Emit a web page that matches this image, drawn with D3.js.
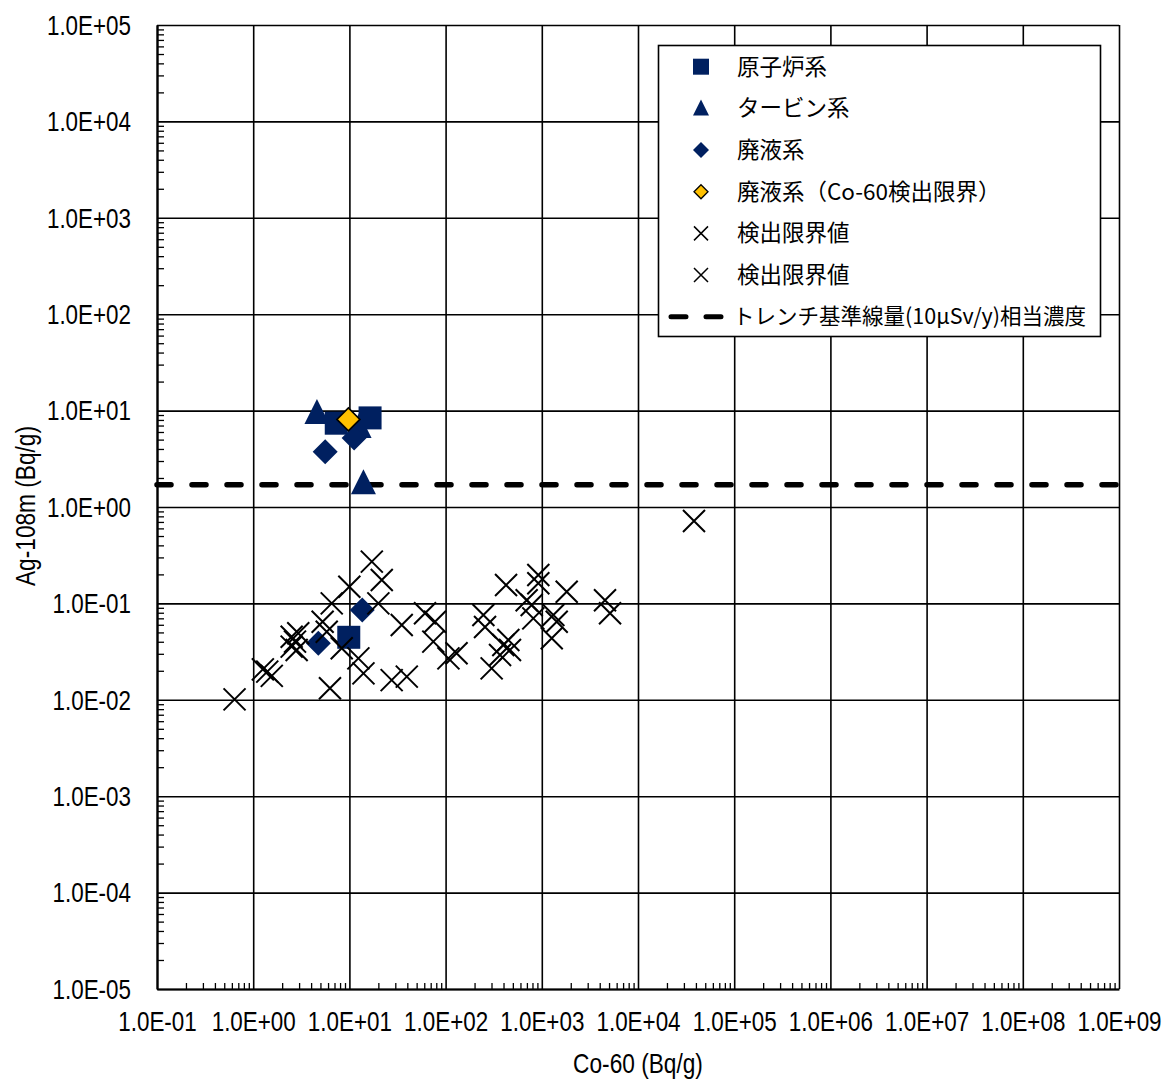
<!DOCTYPE html>
<html>
<head>
<meta charset="utf-8">
<script src="https://cdn.jsdelivr.net/npm/d3@7"></script>
<style>
  body { margin: 0; background: #fff; }
  svg { display: block; }
</style>
</head>
<body>
<div id="chart"></div>
<script>
// data (Bq/g)
var reactorX = [7.3, 16.4, 9.85];
var reactorY = [7.4, 8.4, 0.0445];
var turbineX = [4.6, 12.6, 14.0];
var turbineY = [9.5, 6.8, 1.77];
var wasteX = [5.6, 11.2, 13.6, 4.75];
var wasteY = [3.75, 5.2, 0.0855, 0.0385];
var wasteLimX = [9.76];
var wasteLimY = [8.1];
// detection limit values (two series in the legend, same marker)
var limitX = [0.64, 1.26, 1.40, 1.56, 2.51, 2.72, 2.51, 2.94, 2.83, 5.27, 5.81, 6.55,
  9.98, 17.1, 21.7, 20.0, 8.32, 12.4, 14.0, 6.28, 35.0, 27.5, 39.5, 61.1];
var limitY = [0.0101, 0.0207, 0.0196, 0.0177, 0.0451, 0.0401, 0.0356, 0.0490, 0.0329, 0.0646, 0.0509, 0.100,
  0.149, 0.271, 0.175, 0.100, 0.0342, 0.0269, 0.0188, 0.0132, 0.0597, 0.0160, 0.0174, 0.0789];
var limit2X = [77.6, 74.5, 107, 130, 247, 257, 301, 368, 449, 467, 425, 920,
  920, 1815, 696, 785, 816, 1318, 1429, 1268, 4540, 5120, 38200, 398];
var limit2Y = [0.0646, 0.0401, 0.0269, 0.0304, 0.0758, 0.0569, 0.0212, 0.0292, 0.0417, 0.0329, 0.155, 0.197,
  0.162, 0.132, 0.108, 0.0962, 0.070, 0.0758, 0.0646, 0.0435, 0.108, 0.0789, 0.716, 0.037];
var trenchLevel = 1.7;

var xTickExp = [-1, 0, 1, 2, 3, 4, 5, 6, 7, 8, 9];
var yTickExp = [-5, -4, -3, -2, -1, 0, 1, 2, 3, 4, 5];

var legendLabels = ["原子炉系", "タービン系", "廃液系", "廃液系（Co-60検出限界）",
  "検出限界値", "検出限界値", "トレンチ基準線量(10μSv/y)相当濃度"];

var navy = "#002060";
var gold = "#FFC000";

var W = 1166, H = 1080;
var pLeft = 157, pRight = 1119, pTop = 25, pBottom = 989;

var svg = d3.select("#chart").append("svg")
  .attr("width", W).attr("height", H);
svg.append("rect").attr("width", W).attr("height", H).attr("fill", "#fff");

var x = d3.scaleLog().domain([0.1, 1e9]).range([pLeft, pRight]);
var y = d3.scaleLog().domain([1e-5, 1e5]).range([pBottom, pTop]);

function fmt(v) {
  var e = Math.round(Math.log10(v));
  var s = Math.abs(e) < 10 ? "0" + Math.abs(e) : "" + Math.abs(e);
  return "1.0E" + (e < 0 ? "-" : "+") + s;
}

var xMajor = xTickExp.map(function(e) { return Math.pow(10, e); });
var yMajor = yTickExp.map(function(e) { return Math.pow(10, e); });
var xMinor = [], yMinor = [];
xTickExp.slice(0, -1).forEach(function(e) {
  for (var k = 2; k <= 9; k++) xMinor.push(k * Math.pow(10, e));
});
yTickExp.slice(0, -1).forEach(function(e) {
  for (var k = 2; k <= 9; k++) yMinor.push(k * Math.pow(10, e));
});

// gridlines
svg.append("g")
  .attr("transform", "translate(0," + pBottom + ")")
  .call(d3.axisBottom(x).tickValues(xMajor).tickSize(-(pBottom - pTop)).tickFormat(""))
  .call(function(g) { g.select(".domain").remove(); })
  .selectAll("line").attr("stroke", "#000").attr("stroke-width", 1.6);
svg.append("g")
  .attr("transform", "translate(" + pLeft + ",0)")
  .call(d3.axisLeft(y).tickValues(yMajor).tickSize(-(pRight - pLeft)).tickFormat(""))
  .call(function(g) { g.select(".domain").remove(); })
  .selectAll("line").attr("stroke", "#000").attr("stroke-width", 1.6);

// minor ticks, pointing inside
svg.append("g")
  .attr("transform", "translate(0," + pBottom + ")")
  .call(d3.axisBottom(x).tickValues(xMinor).tickSize(-6).tickFormat(""))
  .call(function(g) { g.select(".domain").remove(); })
  .selectAll("line").attr("stroke", "#000").attr("stroke-width", 1.3);
svg.append("g")
  .attr("transform", "translate(" + pLeft + ",0)")
  .call(d3.axisLeft(y).tickValues(yMinor).tickSize(-7).tickFormat(""))
  .call(function(g) { g.select(".domain").remove(); })
  .selectAll("line").attr("stroke", "#000").attr("stroke-width", 1.3);

// axis lines + labels
var xAxis = svg.append("g")
  .attr("transform", "translate(0," + pBottom + ")")
  .call(d3.axisBottom(x).tickValues(xMajor).tickSize(0).tickFormat(fmt));
var yAxis = svg.append("g")
  .attr("transform", "translate(" + pLeft + ",0)")
  .call(d3.axisLeft(y).tickValues(yMajor).tickSize(0).tickFormat(fmt));
[xAxis, yAxis].forEach(function(g) {
  g.select(".domain").attr("stroke", "#000").attr("stroke-width", 2.2);
  g.selectAll("text")
    .attr("font-family", "'Liberation Sans', Arial, sans-serif")
    .attr("font-size", 27).attr("fill", "#000");
});
xAxis.selectAll("text")
  .attr("y", null).attr("dy", null)
  .attr("dominant-baseline", "central")
  .attr("transform", "translate(0,33) scale(0.83,1)");
yAxis.selectAll("text")
  .attr("x", null).attr("dy", null)
  .attr("dominant-baseline", "central")
  .attr("text-anchor", "end")
  .attr("transform", "translate(-26,0) scale(0.83,1)");

// axis titles
svg.append("text")
  .attr("transform", "translate(638,1063) scale(0.84,1)")
  .attr("text-anchor", "middle").attr("dominant-baseline", "central")
  .attr("font-family", "'Liberation Sans', Arial, sans-serif").attr("font-size", 27)
  .text("Co-60 (Bq/g)");
svg.append("text")
  .attr("transform", "translate(25,506) rotate(-90) scale(0.84,1)")
  .attr("text-anchor", "middle").attr("dominant-baseline", "central")
  .attr("font-family", "'Liberation Sans', Arial, sans-serif").attr("font-size", 27)
  .text("Ag-108m (Bq/g)");

// trench reference level
svg.append("path")
  .datum([0.1, 1e9])
  .attr("d", d3.line().x(function(d) { return x(d); }).y(function() { return y(trenchLevel); }))
  .attr("stroke", "#000").attr("stroke-width", 5.5)
  .attr("stroke-linecap", "round")
  .attr("stroke-dasharray", "14 21")
  .attr("fill", "none");

// marker shapes
function squarePath(s) { var h = s / 2; return "M" + (-h) + "," + (-h) + "H" + h + "V" + h + "H" + (-h) + "Z"; }
function triPath(w, h) { return "M0," + (-h * 0.55) + "L" + (w / 2) + "," + (h * 0.45) + "L" + (-w / 2) + "," + (h * 0.45) + "Z"; }
function diaPath(s) { var h = s / 2; return "M0," + (-h) + "L" + h + ",0L0," + h + "L" + (-h) + ",0Z"; }
function crossPath(s) { var h = s / 2; return "M" + (-h) + "," + (-h) + "L" + h + "," + h + "M" + h + "," + (-h) + "L" + (-h) + "," + h; }

function zip(xs, ys) { return xs.map(function(v, i) { return [v, ys[i]]; }); }

function drawSeries(cls, pts, d, fill, stroke, sw) {
  svg.append("g").selectAll("path." + cls)
    .data(pts)
    .enter()
    .append("path")
      .attr("class", cls)
      .attr("transform", function(p) { return "translate(" + x(p[0]) + "," + y(p[1]) + ")"; })
      .attr("d", d)
      .attr("fill", fill)
      .attr("stroke", stroke)
      .attr("stroke-width", sw);
}

drawSeries("reactor", zip(reactorX, reactorY), squarePath(23), navy, "none", 0);
drawSeries("turbine", zip(turbineX, turbineY), triPath(25, 25), navy, "none", 0);
drawSeries("waste", zip(wasteX, wasteY), diaPath(25), navy, "none", 0);
drawSeries("wasteLim", zip(wasteLimX, wasteLimY), diaPath(23), gold, "#000", 1.6);
drawSeries("limit", zip(limitX, limitY), crossPath(22), "none", "#000", 2);
drawSeries("limit2", zip(limit2X, limit2Y), crossPath(22), "none", "#000", 2);

// legend
var lg = svg.append("g");
lg.append("rect")
  .attr("x", 658.5).attr("y", 45.5).attr("width", 442).attr("height", 291)
  .attr("fill", "#fff").attr("stroke", "#000").attr("stroke-width", 1.6);
var rowY = function(i) { return 66.7 + i * 41.67; };
var mx = 701;
var legendMarks = [
  { d: squarePath(16), fill: navy, stroke: "none", sw: 0 },
  { d: triPath(16, 16), fill: navy, stroke: "none", sw: 0 },
  { d: diaPath(16), fill: navy, stroke: "none", sw: 0 },
  { d: diaPath(14), fill: gold, stroke: "#000", sw: 1.3 },
  { d: crossPath(14), fill: "none", stroke: "#000", sw: 1.5 },
  { d: crossPath(14), fill: "none", stroke: "#000", sw: 1.5 }
];
lg.selectAll("path.lm")
  .data(legendMarks)
  .enter()
  .append("path")
    .attr("class", "lm")
    .attr("transform", function(d, i) { return "translate(" + mx + "," + rowY(i) + ")"; })
    .attr("d", function(d) { return d.d; })
    .attr("fill", function(d) { return d.fill; })
    .attr("stroke", function(d) { return d.stroke; })
    .attr("stroke-width", function(d) { return d.sw; });
lg.append("line")
  .attr("x1", 671).attr("x2", 724).attr("y1", rowY(6)).attr("y2", rowY(6))
  .attr("stroke", "#000").attr("stroke-width", 5)
  .attr("stroke-linecap", "round")
  .attr("stroke-dasharray", "15 20");
lg.selectAll("text")
  .data(legendLabels)
  .enter()
  .append("text")
    .attr("x", function(d, i) { return i === 6 ? 733 : 737; })
    .attr("y", function(d, i) { return rowY(i) - 2; })
    .attr("dominant-baseline", "central")
    .attr("font-family", "'Noto Sans CJK JP', sans-serif")
    .attr("font-size", function(d, i) { return i === 6 ? 21.5 : 22.5; })
    .attr("fill", "#000")
    .text(function(d) { return d; });
</script>
</body>
</html>
